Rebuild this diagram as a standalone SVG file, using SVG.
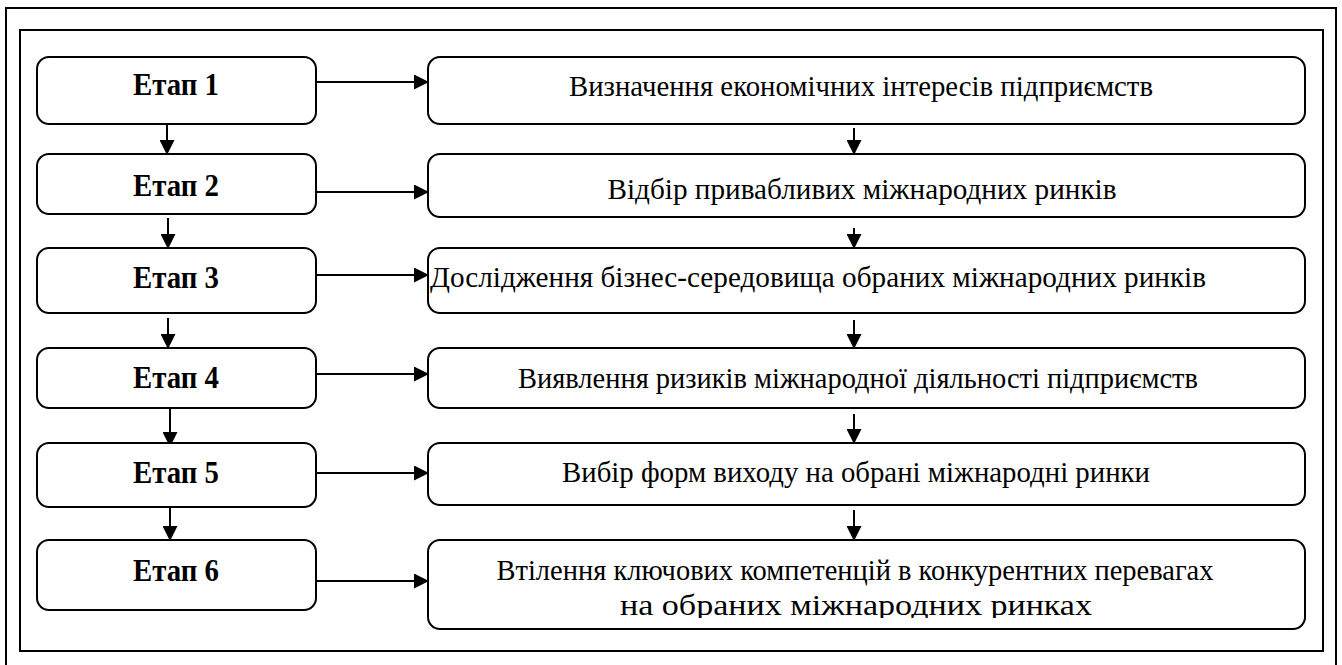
<svg xmlns="http://www.w3.org/2000/svg" width="1342" height="665" viewBox="0 0 1342 665">
<defs>
<marker id="ah" markerWidth="15" markerHeight="15" refX="14" refY="7.5" orient="auto" markerUnits="userSpaceOnUse">
<path d="M0,0 L15,7.5 L0,15 Z" fill="#000"/>
</marker>
<clipPath id="clip6"><rect x="428" y="540" width="877" height="78"/></clipPath>
</defs>
<style>
.frame{fill:none;stroke:#000;stroke-width:2}
.box{fill:#fff;stroke:#000;stroke-width:2}
.lbl{font-family:"Liberation Serif","Times New Roman",serif;font-weight:bold;font-size:31px;text-anchor:middle;fill:#000}
.txt{font-family:"Liberation Serif","Times New Roman",serif;font-size:30px;text-anchor:middle;fill:#000}
.con{fill:none;stroke:#000;stroke-width:2;marker-end:url(#ah)}
</style>
<rect class="frame" x="6" y="8" width="1330" height="670"/>
<rect class="frame" x="20" y="30" width="1303" height="621"/>

<g id="connectors">
<line class="con" x1="316" y1="82" x2="428" y2="82"/>
<line class="con" x1="316" y1="192" x2="428" y2="192"/>
<line class="con" x1="316" y1="275" x2="428" y2="275"/>
<line class="con" x1="316" y1="374" x2="428" y2="374"/>
<line class="con" x1="316" y1="473" x2="428" y2="473"/>
<line class="con" x1="316" y1="581" x2="428" y2="581"/>
<line class="con" x1="167" y1="124" x2="167" y2="154"/>
<line class="con" x1="168" y1="218" x2="168" y2="248"/>
<line class="con" x1="168" y1="318" x2="168" y2="348"/>
<line class="con" x1="170" y1="408" x2="170" y2="446"/>
<line class="con" x1="170" y1="506" x2="170" y2="540"/>
<line class="con" x1="854" y1="128" x2="854" y2="154"/>
<line class="con" x1="854" y1="228" x2="854" y2="248"/>
<line class="con" x1="854" y1="320" x2="854" y2="348"/>
<line class="con" x1="854" y1="414" x2="854" y2="443"/>
<line class="con" x1="854" y1="510" x2="854" y2="540"/>
</g>

<g id="etap1"><rect class="box" x="37" y="57" width="279" height="67" rx="12"/><text class="lbl" x="176" y="95" textLength="86" lengthAdjust="spacingAndGlyphs">Етап 1</text></g>
<g id="etap2"><rect class="box" x="37" y="154" width="279" height="60" rx="12"/><text class="lbl" x="176" y="196" textLength="86" lengthAdjust="spacingAndGlyphs">Етап 2</text></g>
<g id="etap3"><rect class="box" x="37" y="248" width="279" height="65" rx="12"/><text class="lbl" x="176" y="288" textLength="86" lengthAdjust="spacingAndGlyphs">Етап 3</text></g>
<g id="etap4"><rect class="box" x="37" y="348" width="279" height="60" rx="12"/><text class="lbl" x="176" y="388" textLength="86" lengthAdjust="spacingAndGlyphs">Етап 4</text></g>
<g id="etap5"><rect class="box" x="37" y="443" width="279" height="64" rx="12"/><text class="lbl" x="176" y="483" textLength="86" lengthAdjust="spacingAndGlyphs">Етап 5</text></g>
<g id="etap6"><rect class="box" x="37" y="540" width="279" height="70" rx="12"/><text class="lbl" x="176" y="581" textLength="86" lengthAdjust="spacingAndGlyphs">Етап 6</text></g>

<g id="step1"><rect class="box" x="428" y="57" width="877" height="67" rx="12"/><text class="txt" x="861" y="96" textLength="584" lengthAdjust="spacingAndGlyphs">Визначення економічних інтересів підприємств</text></g>
<g id="step2"><rect class="box" x="428" y="154" width="877" height="63" rx="12"/><text class="txt" x="862" y="199" textLength="509" lengthAdjust="spacingAndGlyphs">Відбір привабливих міжнародних ринків</text></g>
<g id="step3"><rect class="box" x="428" y="248" width="877" height="65" rx="12"/><text class="txt" x="818" y="287" textLength="776" lengthAdjust="spacingAndGlyphs">Дослідження бізнес-середовища обраних міжнародних ринків</text></g>
<g id="step4"><rect class="box" x="428" y="348" width="877" height="60" rx="12"/><text class="txt" x="858" y="388" textLength="680" lengthAdjust="spacingAndGlyphs">Виявлення ризиків міжнародної діяльності підприємств</text></g>
<g id="step5"><rect class="box" x="428" y="443" width="877" height="62" rx="12"/><text class="txt" x="856" y="482" textLength="588" lengthAdjust="spacingAndGlyphs">Вибір форм виходу на обрані міжнародні ринки</text></g>
<g id="step6"><rect class="box" x="428" y="540" width="877" height="89" rx="12"/>
<text class="txt" x="855" y="580" textLength="717" lengthAdjust="spacingAndGlyphs">Втілення ключових компетенцій в конкурентних перевагах</text>
<text class="txt" x="856" y="615" textLength="472" lengthAdjust="spacingAndGlyphs" clip-path="url(#clip6)">на обраних міжнародних ринках</text></g>
</svg>
